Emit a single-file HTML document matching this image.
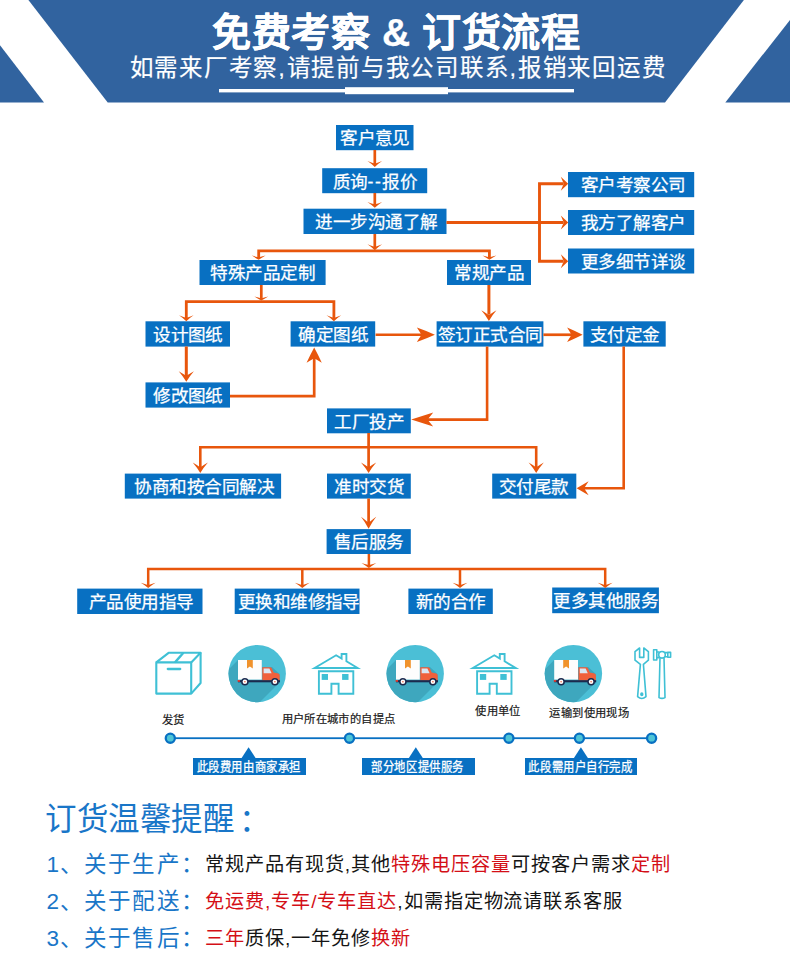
<!DOCTYPE html>
<html lang="zh-CN"><head><meta charset="utf-8"><title>免费考察 &amp; 订货流程</title>
<style>
html,body{margin:0;padding:0;background:#fff}
body{width:790px;height:962px;position:relative;overflow:hidden;font-family:"Liberation Sans",sans-serif}
#hdr,#art{position:absolute;left:0;top:0}
.h1{position:absolute;left:1.3px;width:790px;top:9px;text-align:center;color:#fff;font-weight:bold;-webkit-text-stroke:.25px #fff;font-size:39px;line-height:48px;letter-spacing:.6px;white-space:nowrap}
.h2{position:absolute;left:3px;width:790px;top:52px;text-align:center;color:#fff;-webkit-text-stroke:.2px #fff;font-size:23.5px;line-height:32px;letter-spacing:1.77px;white-space:nowrap}
.b{position:absolute;color:#fff;font-size:17.6px;letter-spacing:-.55px;text-indent:.55px;-webkit-text-stroke:.25px #fff;text-align:center;white-space:nowrap;overflow:visible}
.dd{letter-spacing:1.6px}
.lb{position:absolute;background:#0870c2;color:#fff;font-size:11.35px;letter-spacing:.58px;text-align:center;white-space:nowrap;-webkit-text-stroke:.25px #fff}
.lb span{display:inline-block;position:relative;top:1.1px;left:-.6px;transform:scaleY(1.13);transform-origin:50% 55%}
.cap{position:absolute;color:#1a1a1a;font-size:11.3px;line-height:14px;white-space:nowrap;letter-spacing:.38px;margin-top:.4px;-webkit-text-stroke:.2px #1a1a1a}
.t0{position:absolute;left:45px;top:799px;color:#1976c8;font-size:31.5px;line-height:40px;letter-spacing:-.45px;white-space:nowrap}
.t0 span{position:relative;left:5px;top:1px}
.ln{position:absolute;left:46.5px;white-space:nowrap;line-height:30px;height:30px}
.ln .k{color:#1976c8;font-size:22.5px;letter-spacing:1.1px;vertical-align:middle}
.ln .v{position:absolute;left:158.5px;top:.5px;color:#151515;font-size:19.2px;letter-spacing:.97px}
.ln .v i{font-style:normal;color:#d40f17}
</style></head><body>
<svg id="hdr" width="790" height="110" viewBox="0 0 790 110">
<polygon points="28.4,0 743.9,0 665,102.4 107.7,102.4" fill="#31639f"/>
<polygon points="0,45.2 44,102.4 0,102.4" fill="#31639f"/>
<polygon points="790,20 790,102.4 725.3,102.4" fill="#31639f"/>
<rect x="219" y="89" width="355" height="3.4" fill="#fff"/>
<rect x="345" y="87.2" width="103" height="7" fill="#fff"/>
</svg>
<div class="h1">免费考察 &amp; 订货流程</div>
<div class="h2">如需来厂考察,请提前与我公司联系,报销来回运费</div>

<svg id="art" width="790" height="962" viewBox="0 0 790 962">
<rect x="336.00" y="125.00" width="77.50" height="25.20" fill="#0870c2"/>
<rect x="322.20" y="168.20" width="105.00" height="25.00" fill="#0870c2"/>
<rect x="303.50" y="208.70" width="143.00" height="25.30" fill="#0870c2"/>
<rect x="568.00" y="172.00" width="126.20" height="25.20" fill="#0870c2"/>
<rect x="568.00" y="210.00" width="126.20" height="25.00" fill="#0870c2"/>
<rect x="568.00" y="248.50" width="126.20" height="25.00" fill="#0870c2"/>
<rect x="199.50" y="260.00" width="126.10" height="25.00" fill="#0870c2"/>
<rect x="447.00" y="260.00" width="84.00" height="25.00" fill="#0870c2"/>
<rect x="145.50" y="321.30" width="84.50" height="25.30" fill="#0870c2"/>
<rect x="290.60" y="321.30" width="84.60" height="25.30" fill="#0870c2"/>
<rect x="436.60" y="321.30" width="106.80" height="25.30" fill="#0870c2"/>
<rect x="583.40" y="321.30" width="82.30" height="25.30" fill="#0870c2"/>
<rect x="145.50" y="382.40" width="84.50" height="25.20" fill="#0870c2"/>
<rect x="327.00" y="408.40" width="83.80" height="24.90" fill="#0870c2"/>
<rect x="124.80" y="473.60" width="156.30" height="25.00" fill="#0870c2"/>
<rect x="327.00" y="473.60" width="83.80" height="25.00" fill="#0870c2"/>
<rect x="492.20" y="473.60" width="84.10" height="25.00" fill="#0870c2"/>
<rect x="326.60" y="529.10" width="84.20" height="24.90" fill="#0870c2"/>
<rect x="77.20" y="588.60" width="125.30" height="25.40" fill="#0870c2"/>
<rect x="234.70" y="588.60" width="124.80" height="25.40" fill="#0870c2"/>
<rect x="408.40" y="588.60" width="84.40" height="25.40" fill="#0870c2"/>
<rect x="552.20" y="587.50" width="106.70" height="25.70" fill="#0870c2"/>
<path d="M374.80 150.00 L374.80 164.00" fill="none" stroke="#e8560c" stroke-width="2.7" stroke-linejoin="miter"/>
<path d="M374.80 167.00 Q371.44 163.81 367.50 161.10 Q370.84 162.35 373.50 163.30 L376.10 163.30 Q378.76 162.35 382.10 161.10 Q378.16 163.81 374.80 167.00Z" fill="#e8560c"/>
<path d="M374.80 193.00 L374.80 205.00" fill="none" stroke="#e8560c" stroke-width="2.7" stroke-linejoin="miter"/>
<path d="M374.80 207.80 Q371.44 204.61 367.50 201.90 Q370.84 203.15 373.50 204.10 L376.10 204.10 Q378.76 203.15 382.10 201.90 Q378.16 204.61 374.80 207.80Z" fill="#e8560c"/>
<path d="M374.80 234.00 L374.80 248.00" fill="none" stroke="#e8560c" stroke-width="2.7" stroke-linejoin="miter"/>
<path d="M374.80 250.20 Q371.44 247.01 367.50 244.30 Q370.84 245.55 373.50 246.50 L376.10 246.50 Q378.76 245.55 382.10 244.30 Q378.16 247.01 374.80 250.20Z" fill="#e8560c"/>
<path d="M258.70 258.00 L258.70 250.80 L489.40 250.80 L489.40 258.00" fill="none" stroke="#e8560c" stroke-width="2.8" stroke-linejoin="miter"/>
<path d="M258.70 259.80 Q255.25 257.70 251.80 255.60 Q254.93 256.50 257.40 257.10 L260.00 257.10 Q262.47 256.50 265.60 255.60 Q262.15 257.70 258.70 259.80Z" fill="#e8560c"/>
<path d="M489.40 259.80 Q485.95 257.70 482.50 255.60 Q485.63 256.50 488.10 257.10 L490.70 257.10 Q493.17 256.50 496.30 255.60 Q492.85 257.70 489.40 259.80Z" fill="#e8560c"/>
<path d="M446.50 222.50 L563.00 222.50" fill="none" stroke="#e8560c" stroke-width="2.9" stroke-linejoin="miter"/>
<path d="M568.20 222.50 Q564.50 226.00 560.80 229.50 Q562.15 226.32 563.20 223.80 L563.20 221.20 Q562.15 218.68 560.80 215.50 Q564.50 219.00 568.20 222.50Z" fill="#e8560c"/>
<path d="M563.00 183.70 L539.50 183.70 L539.50 261.20 L563.00 261.20" fill="none" stroke="#e8560c" stroke-width="2.9" stroke-linejoin="miter"/>
<path d="M568.20 183.70 Q564.50 187.20 560.80 190.70 Q562.15 187.52 563.20 185.00 L563.20 182.40 Q562.15 179.88 560.80 176.70 Q564.50 180.20 568.20 183.70Z" fill="#e8560c"/>
<path d="M568.20 261.20 Q564.50 264.70 560.80 268.20 Q562.15 265.02 563.20 262.50 L563.20 259.90 Q562.15 257.38 560.80 254.20 Q564.50 257.70 568.20 261.20Z" fill="#e8560c"/>
<path d="M261.30 285.00 L261.30 299.00" fill="none" stroke="#e8560c" stroke-width="2.7" stroke-linejoin="miter"/>
<path d="M261.30 300.60 Q257.85 298.50 254.40 296.40 Q257.53 297.30 260.00 297.90 L262.60 297.90 Q265.07 297.30 268.20 296.40 Q264.75 298.50 261.30 300.60Z" fill="#e8560c"/>
<path d="M186.30 318.00 L186.30 301.60 L333.90 301.60 L333.90 318.00" fill="none" stroke="#e8560c" stroke-width="2.8" stroke-linejoin="miter"/>
<path d="M186.30 321.20 Q182.94 318.01 179.00 315.30 Q182.34 316.55 185.00 317.50 L187.60 317.50 Q190.26 316.55 193.60 315.30 Q189.66 318.01 186.30 321.20Z" fill="#e8560c"/>
<path d="M333.90 321.20 Q330.54 318.01 326.60 315.30 Q329.94 316.55 332.60 317.50 L335.20 317.50 Q337.86 316.55 341.20 315.30 Q337.26 318.01 333.90 321.20Z" fill="#e8560c"/>
<path d="M186.30 346.50 L186.30 375.00" fill="none" stroke="#e8560c" stroke-width="3.0" stroke-linejoin="miter"/>
<path d="M186.30 381.80 Q182.88 375.97 178.70 371.20 Q182.21 373.30 185.00 375.10 L187.60 375.10 Q190.39 373.30 193.90 371.20 Q189.72 375.97 186.30 381.80Z" fill="#e8560c"/>
<path d="M230.00 396.20 L314.20 396.20 L314.20 357.00" fill="none" stroke="#e8560c" stroke-width="2.7" stroke-linejoin="miter"/>
<path d="M314.20 347.50 Q318.15 354.80 321.80 362.70 Q318.29 360.75 315.50 359.10 L312.90 359.10 Q310.11 360.75 306.60 362.70 Q310.25 354.80 314.20 347.50Z" fill="#e8560c"/>
<path d="M375.60 334.75 L424.00 334.75" fill="none" stroke="#e8560c" stroke-width="2.7" stroke-linejoin="miter"/>
<path d="M434.90 334.75 Q426.44 338.57 416.90 341.95 Q418.95 338.66 420.70 336.05 L420.70 333.45 Q418.95 330.84 416.90 327.55 Q426.44 330.93 434.90 334.75Z" fill="#e8560c"/>
<path d="M488.90 285.00 L488.90 314.00" fill="none" stroke="#e8560c" stroke-width="3.0" stroke-linejoin="miter"/>
<path d="M488.90 320.90 Q485.48 315.07 481.30 310.30 Q484.81 312.40 487.60 314.20 L490.20 314.20 Q492.99 312.40 496.50 310.30 Q492.32 315.07 488.90 320.90Z" fill="#e8560c"/>
<path d="M543.40 334.75 L574.00 334.75" fill="none" stroke="#e8560c" stroke-width="2.7" stroke-linejoin="miter"/>
<path d="M582.60 334.75 Q575.16 338.49 567.10 341.95 Q569.10 338.66 570.80 336.05 L570.80 333.45 Q569.10 330.84 567.10 327.55 Q575.16 331.01 582.60 334.75Z" fill="#e8560c"/>
<path d="M487.10 346.50 L487.10 419.60 L424.00 419.60" fill="none" stroke="#e8560c" stroke-width="2.6" stroke-linejoin="miter"/>
<path d="M411.20 419.60 Q422.20 416.10 433.20 412.60 Q430.75 415.78 428.60 418.30 L428.60 420.90 Q430.75 423.42 433.20 426.60 Q422.20 423.10 411.20 419.60Z" fill="#e8560c"/>
<path d="M623.70 346.50 L623.70 488.30 L583.00 488.30" fill="none" stroke="#e8560c" stroke-width="2.6" stroke-linejoin="miter"/>
<path d="M576.60 488.30 Q582.60 484.80 588.60 481.30 Q586.60 484.48 584.90 487.00 L584.90 489.60 Q586.60 492.12 588.60 495.30 Q582.60 491.80 576.60 488.30Z" fill="#e8560c"/>
<path d="M368.60 433.00 L368.60 468.00" fill="none" stroke="#e8560c" stroke-width="2.7" stroke-linejoin="miter"/>
<path d="M368.60 473.10 Q365.18 467.27 361.00 462.50 Q364.51 464.60 367.30 466.40 L369.90 466.40 Q372.69 464.60 376.20 462.50 Q372.02 467.27 368.60 473.10Z" fill="#e8560c"/>
<path d="M200.30 468.00 L200.30 447.20 L536.20 447.20 L536.20 468.00" fill="none" stroke="#e8560c" stroke-width="2.6" stroke-linejoin="miter"/>
<path d="M200.30 473.10 Q196.88 467.27 192.70 462.50 Q196.21 464.60 199.00 466.40 L201.60 466.40 Q204.39 464.60 207.90 462.50 Q203.72 467.27 200.30 473.10Z" fill="#e8560c"/>
<path d="M536.20 473.10 Q532.78 467.27 528.60 462.50 Q532.11 464.60 534.90 466.40 L537.50 466.40 Q540.29 464.60 543.80 462.50 Q539.62 467.27 536.20 473.10Z" fill="#e8560c"/>
<path d="M368.60 498.50 L368.60 523.00" fill="none" stroke="#e8560c" stroke-width="2.7" stroke-linejoin="miter"/>
<path d="M368.60 528.80 Q365.18 522.20 361.00 516.80 Q364.51 519.40 367.30 521.70 L369.90 521.70 Q372.69 519.40 376.20 516.80 Q372.02 522.20 368.60 528.80Z" fill="#e8560c"/>
<path d="M368.90 554.00 L368.90 566.00" fill="none" stroke="#e8560c" stroke-width="2.5" stroke-linejoin="miter"/>
<path d="M368.90 568.00 Q365.42 565.30 361.50 562.90 Q364.90 564.00 367.60 564.80 L370.20 564.80 Q372.90 564.00 376.30 562.90 Q372.38 565.30 368.90 568.00Z" fill="#e8560c"/>
<path d="M148.20 585.00 L148.20 569.10 L605.20 569.10 L605.20 585.00" fill="none" stroke="#e8560c" stroke-width="2.5" stroke-linejoin="miter"/>
<path d="M302.30 569.10 L302.30 585.00" fill="none" stroke="#e8560c" stroke-width="2.5" stroke-linejoin="miter"/>
<path d="M460.00 569.10 L460.00 585.00" fill="none" stroke="#e8560c" stroke-width="2.5" stroke-linejoin="miter"/>
<path d="M148.20 587.90 Q144.72 585.20 140.80 582.80 Q144.20 583.90 146.90 584.70 L149.50 584.70 Q152.20 583.90 155.60 582.80 Q151.68 585.20 148.20 587.90Z" fill="#e8560c"/>
<path d="M302.30 587.90 Q298.82 585.20 294.90 582.80 Q298.30 583.90 301.00 584.70 L303.60 584.70 Q306.30 583.90 309.70 582.80 Q305.78 585.20 302.30 587.90Z" fill="#e8560c"/>
<path d="M460.00 587.90 Q456.52 585.20 452.60 582.80 Q456.00 583.90 458.70 584.70 L461.30 584.70 Q464.00 583.90 467.40 582.80 Q463.48 585.20 460.00 587.90Z" fill="#e8560c"/>
<path d="M605.20 587.90 Q601.72 585.20 597.80 582.80 Q601.20 583.90 603.90 584.70 L606.50 584.70 Q609.20 583.90 612.60 582.80 Q608.68 585.20 605.20 587.90Z" fill="#e8560c"/>
<g stroke="#3fc0d5" stroke-width="2.1" fill="none" stroke-linejoin="round">
<rect x="156.3" y="662.4" width="34.9" height="31.2"/>
<path d="M156.3 662.4 L168.6 652.8 L200.6 652.8 L191.2 662.4"/>
<path d="M200.6 652.8 L200.6 683 L191.2 693.6"/>
<path d="M183.4 652.8 L175 662.4" stroke-width="2.4"/>
<path d="M167.8 669 L180.2 669" stroke-width="2.3" stroke-linecap="round"/>
</g>
<g transform="translate(0.0 0.0)">
<clipPath id="c1"><circle cx="257.2" cy="673.6" r="28.7"/></clipPath>
<circle cx="257.2" cy="673.6" r="28.7" fill="#4bbfd6"/>
<g clip-path="url(#c1)">
<path d="M238 660 L261.8 660 L261.8 667 L272 667 L279.6 674 L279.8 683 L276 686 L236 726 L190 708 Z" fill="#3ea7be"/>
</g>
<rect x="238" y="660" width="23.8" height="19.6" fill="#fdfdfd"/>
<path d="M247 660 h5.8 v8.4 l-2.9 -2 l-2.9 2 Z" fill="#f0922b"/>
<path d="M262.3 680.8 V667.2 h7.8 q1.2 0 1.8 1.2 l1.8 4 l4.6 1 q1.4 .4 1.4 2 v5.4 Z" fill="#f0603c"/>
<path d="M263.6 668.4 h5.8 l2.2 4.8 h-8 Z" fill="#dbe6f3"/>
<rect x="238" y="680.2" width="42" height="2.1" fill="#1b2a4e"/>
<rect x="237.6" y="680" width="2.4" height="1.8" fill="#e23b2e"/>
<circle cx="244.9" cy="681.8" r="3.8" fill="#1b2a4e"/><circle cx="244.9" cy="681.8" r="2.3" fill="#fff"/><circle cx="244.9" cy="681.8" r=".8" fill="#f0603c"/>
<circle cx="274.9" cy="681.8" r="3.8" fill="#1b2a4e"/><circle cx="274.9" cy="681.8" r="2.3" fill="#fff"/><circle cx="274.9" cy="681.8" r=".8" fill="#f0603c"/>
</g>
<g transform="translate(0.0 0)" stroke="#3fc0d5" fill="none" stroke-width="1.9" stroke-linejoin="miter">
<path d="M314.6 668 L336.1 655.3 L341.6 658.6 L341.6 654 L346.4 654 L346.4 661.3 L357.6 668 Z"/>
<path d="M318.9 671.3 H353.3 V693.7 H338.6 V683.8 H331.4 V693.7 H318.9 Z"/>
<rect x="321.7" y="674" width="6.3" height="5.9" fill="#3fc0d5" stroke="none"/>
<rect x="342.1" y="674" width="6.4" height="5.9" fill="#3fc0d5" stroke="none"/>
</g>
<g transform="translate(158.0 0.0)">
<clipPath id="c2"><circle cx="257.2" cy="673.6" r="28.7"/></clipPath>
<circle cx="257.2" cy="673.6" r="28.7" fill="#4bbfd6"/>
<g clip-path="url(#c2)">
<path d="M238 660 L261.8 660 L261.8 667 L272 667 L279.6 674 L279.8 683 L276 686 L236 726 L190 708 Z" fill="#3ea7be"/>
</g>
<rect x="238" y="660" width="23.8" height="19.6" fill="#fdfdfd"/>
<path d="M247 660 h5.8 v8.4 l-2.9 -2 l-2.9 2 Z" fill="#f0922b"/>
<path d="M262.3 680.8 V667.2 h7.8 q1.2 0 1.8 1.2 l1.8 4 l4.6 1 q1.4 .4 1.4 2 v5.4 Z" fill="#f0603c"/>
<path d="M263.6 668.4 h5.8 l2.2 4.8 h-8 Z" fill="#dbe6f3"/>
<rect x="238" y="680.2" width="42" height="2.1" fill="#1b2a4e"/>
<rect x="237.6" y="680" width="2.4" height="1.8" fill="#e23b2e"/>
<circle cx="244.9" cy="681.8" r="3.8" fill="#1b2a4e"/><circle cx="244.9" cy="681.8" r="2.3" fill="#fff"/><circle cx="244.9" cy="681.8" r=".8" fill="#f0603c"/>
<circle cx="274.9" cy="681.8" r="3.8" fill="#1b2a4e"/><circle cx="274.9" cy="681.8" r="2.3" fill="#fff"/><circle cx="274.9" cy="681.8" r=".8" fill="#f0603c"/>
</g>
<g transform="translate(158.2 0)" stroke="#3fc0d5" fill="none" stroke-width="1.9" stroke-linejoin="miter">
<path d="M314.6 668 L336.1 655.3 L341.6 658.6 L341.6 654 L346.4 654 L346.4 661.3 L357.6 668 Z"/>
<path d="M318.9 671.3 H353.3 V693.7 H338.6 V683.8 H331.4 V693.7 H318.9 Z"/>
<rect x="321.7" y="674" width="6.3" height="5.9" fill="#3fc0d5" stroke="none"/>
<rect x="342.1" y="674" width="6.4" height="5.9" fill="#3fc0d5" stroke="none"/>
</g>
<g transform="translate(316.2 0.0)">
<clipPath id="c3"><circle cx="257.2" cy="673.6" r="28.7"/></clipPath>
<circle cx="257.2" cy="673.6" r="28.7" fill="#4bbfd6"/>
<g clip-path="url(#c3)">
<path d="M238 660 L261.8 660 L261.8 667 L272 667 L279.6 674 L279.8 683 L276 686 L236 726 L190 708 Z" fill="#3ea7be"/>
</g>
<rect x="238" y="660" width="23.8" height="19.6" fill="#fdfdfd"/>
<path d="M247 660 h5.8 v8.4 l-2.9 -2 l-2.9 2 Z" fill="#f0922b"/>
<path d="M262.3 680.8 V667.2 h7.8 q1.2 0 1.8 1.2 l1.8 4 l4.6 1 q1.4 .4 1.4 2 v5.4 Z" fill="#f0603c"/>
<path d="M263.6 668.4 h5.8 l2.2 4.8 h-8 Z" fill="#dbe6f3"/>
<rect x="238" y="680.2" width="42" height="2.1" fill="#1b2a4e"/>
<rect x="237.6" y="680" width="2.4" height="1.8" fill="#e23b2e"/>
<circle cx="244.9" cy="681.8" r="3.8" fill="#1b2a4e"/><circle cx="244.9" cy="681.8" r="2.3" fill="#fff"/><circle cx="244.9" cy="681.8" r=".8" fill="#f0603c"/>
<circle cx="274.9" cy="681.8" r="3.8" fill="#1b2a4e"/><circle cx="274.9" cy="681.8" r="2.3" fill="#fff"/><circle cx="274.9" cy="681.8" r=".8" fill="#f0603c"/>
</g>
<g stroke="#3fc0d5" fill="none" stroke-width="1.6" stroke-linejoin="round">
<path d="M639.6 648 L635 651.6 L635 660.2 L640.4 664.4 L637.6 696.6 Q641.8 700.4 646 696.6 L643.4 664.4 L648.4 660.2 L648.4 651.6 L643.8 648 L643.8 657.4 L639.6 657.4 Z"/>
<ellipse cx="641.8" cy="694.2" rx=".9" ry="1.2" fill="#3fc0d5"/>
<rect x="653.6" y="649.8" width="3.2" height="10.2"/>
<path d="M656.8 652 H659.2 M656.8 657.6 H659.2 M664.8 652.6 H667.6 M664.8 656.8 H667.6"/>
<circle cx="662" cy="654.8" r="3.3"/>
<rect x="667.8" y="652.4" width="2.8" height="4.8"/>
<path d="M660 658 L659 697.6 Q662 699.2 665 697.6 L664 658"/>
</g>
<rect x="170" y="737.3" width="481.6" height="1.8" fill="#0870c2"/><circle cx="170.3" cy="738.2" r="4.55" fill="#4fc5d6" stroke="#0870c2" stroke-width="2.3"/><circle cx="349.5" cy="738.2" r="4.55" fill="#4fc5d6" stroke="#0870c2" stroke-width="2.3"/><circle cx="508.9" cy="738.2" r="4.55" fill="#4fc5d6" stroke="#0870c2" stroke-width="2.3"/><circle cx="579.4" cy="738.2" r="4.55" fill="#4fc5d6" stroke="#0870c2" stroke-width="2.3"/><circle cx="651.6" cy="738.2" r="4.55" fill="#4fc5d6" stroke="#0870c2" stroke-width="2.3"/><path d="M241.29999999999998 758.6 L248.6 747.2 L255.9 758.6 Z" fill="#0870c2"/><path d="M408.5 758.6 L415.8 747.2 L423.1 758.6 Z" fill="#0870c2"/><path d="M573.6 758.6 L580.9 747.2 L588.1999999999999 758.6 Z" fill="#0870c2"/>
</svg>

<div class="b" style="left:336.0px;top:126.3px;width:77.5px;height:25.2px;line-height:25.2px">客户意见</div>
<div class="b" style="left:322.2px;top:169.5px;width:105.0px;height:25.0px;line-height:25.0px">质询<span class="dd">--</span>报价</div>
<div class="b" style="left:304.8px;top:210.0px;width:143.0px;height:25.3px;line-height:25.3px">进一步沟通了解</div>
<div class="b" style="left:569.8px;top:173.3px;width:126.2px;height:25.2px;line-height:25.2px">客户考察公司</div>
<div class="b" style="left:569.8px;top:211.3px;width:126.2px;height:25.0px;line-height:25.0px">我方了解客户</div>
<div class="b" style="left:569.8px;top:249.8px;width:126.2px;height:25.0px;line-height:25.0px">更多细节详谈</div>
<div class="b" style="left:199.5px;top:261.3px;width:126.1px;height:25.0px;line-height:25.0px">特殊产品定制</div>
<div class="b" style="left:447.0px;top:261.3px;width:84.0px;height:25.0px;line-height:25.0px">常规产品</div>
<div class="b" style="left:145.5px;top:322.6px;width:84.5px;height:25.3px;line-height:25.3px">设计图纸</div>
<div class="b" style="left:290.6px;top:322.6px;width:84.6px;height:25.3px;line-height:25.3px">确定图纸</div>
<div class="b" style="left:436.6px;top:322.6px;width:106.8px;height:25.3px;line-height:25.3px">签订正式合同</div>
<div class="b" style="left:583.4px;top:322.6px;width:82.3px;height:25.3px;line-height:25.3px">支付定金</div>
<div class="b" style="left:145.5px;top:383.7px;width:84.5px;height:25.2px;line-height:25.2px">修改图纸</div>
<div class="b" style="left:327.0px;top:409.7px;width:83.8px;height:24.9px;line-height:24.9px">工厂投产</div>
<div class="b" style="left:125.8px;top:474.9px;width:156.3px;height:25.0px;line-height:25.0px">协商和按合同解决</div>
<div class="b" style="left:327.0px;top:474.9px;width:83.8px;height:25.0px;line-height:25.0px">准时交货</div>
<div class="b" style="left:491.4px;top:474.9px;width:84.1px;height:25.0px;line-height:25.0px">交付尾款</div>
<div class="b" style="left:326.6px;top:530.4px;width:84.2px;height:24.9px;line-height:24.9px">售后服务</div>
<div class="b" style="left:78.2px;top:589.9px;width:125.3px;height:25.4px;line-height:25.4px">产品使用指导</div>
<div class="b" style="left:236.2px;top:589.9px;width:124.8px;height:25.4px;line-height:25.4px">更换和维修指导</div>
<div class="b" style="left:408.4px;top:589.9px;width:84.4px;height:25.4px;line-height:25.4px">新的合作</div>
<div class="b" style="left:552.2px;top:588.8px;width:106.7px;height:25.7px;line-height:25.7px">更多其他服务</div>
<div class="lb" style="left:193px;top:758.4px;width:112.9px;height:16.9px;line-height:16.9px"><span>此段费用由商家承担</span></div>
<div class="lb" style="left:362px;top:758.4px;width:112.5px;height:16.9px;line-height:16.9px"><span>部分地区提供服务</span></div>
<div class="lb" style="left:524.8px;top:758.4px;width:112.7px;height:16.9px;line-height:16.9px"><span>此段需用户自行完成</span></div>
<div class="cap" style="left:161.5px;top:712.5px">发货</div>
<div class="cap" style="left:281.5px;top:711.5px">用户所在城市的自提点</div>
<div class="cap" style="left:475.3px;top:703.5px">使用单位</div>
<div class="cap" style="left:549.4px;top:705.3px">运输到使用现场</div>

<div class="t0">订货温馨提醒<span>：</span></div>
<div class="ln" style="top:849px"><span class="k">1、关于生产：</span><span class="v">常规产品有现货,其他<i>特殊电压容量</i>可按客户需求<i>定制</i></span></div>
<div class="ln" style="top:886px"><span class="k">2、关于配送：</span><span class="v"><i>免运费,专车/专车直达</i>,如需指定物流请联系客服</span></div>
<div class="ln" style="top:923px"><span class="k">3、关于售后：</span><span class="v"><i>三年</i>质保,一年免修<i>换新</i></span></div>
</body></html>
